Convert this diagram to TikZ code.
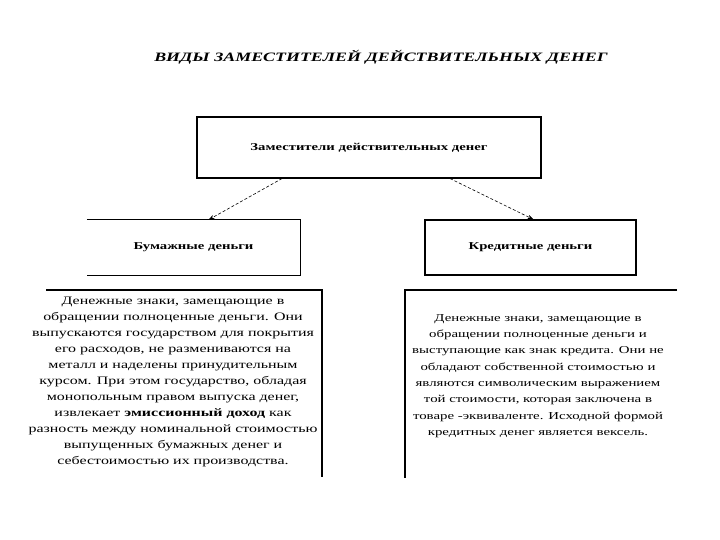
\documentclass[tikz,border=0pt]{standalone}
\usepackage{fontspec}
\setmainfont{Liberation Serif}[FakeStretch=1.4]
\usetikzlibrary{arrows.meta, positioning}

\begin{document}
\begin{tikzpicture}[x=1pt, y=-1pt, >={Stealth[length=6pt, width=4pt]},
            frame/.style={line width=1.1pt},
            block/.style={minimum height=55pt, inner sep=0pt,
              font=\fontsize{10.5}{12}\selectfont\bfseries},
            textblock/.style={align=center, inner sep=0pt,
              font=\fontsize{11.4}{16}\selectfont},
            link/.style={->, dashed, dash pattern=on 3pt off 2pt, line width=0.6pt}]
          \useasboundingbox (0,0) rectangle (720,540);
          % Заголовок
          \node (title) at (381,57) {\fontsize{12.8}{15}\selectfont\bfseries\itshape ВИДЫ ЗАМЕСТИТЕЛЕЙ ДЕЙСТВИТЕЛЬНЫХ ДЕНЕГ};
          % Верхний блок
          \node[block, draw, frame, minimum width=344pt, minimum height=61pt] (top) at (369,147.5) {Заместители действительных денег};
          % Виды
          \node[block, minimum width=213pt] (paper) at (193.5,247.5) {Бумажные деньги};
          \draw[frame] (paper.north west) -- (paper.north east) -- (paper.south east) -- (paper.south west);
          \node[block, draw, frame, minimum width=211pt] (credit) at (530.5,247.5) {Кредитные деньги};
          \draw[link] ([xshift=-87pt]top.south) -- ([xshift=15pt]paper.north);
          \draw[link] ([xshift=81pt]top.south) -- ([xshift=3pt]credit.north);
          % Описания
          \draw[frame] (46,290) -- (322,290) -- (322,477);
          \node[textblock] (papertext) at (173,382) {Денежные знаки, замещающие в\\
            обращении полноценные деньги. Они\\
            выпускаются государством для покрытия\\
            его расходов, не размениваются на\\
            металл и наделены принудительным\\
            курсом. При этом государство, обладая\\
            монопольным правом выпуска денег,\\
            извлекает \textbf{эмиссионный доход} как\\
            разность между номинальной стоимостью\\
            выпущенных бумажных денег и\\
            себестоимостью их производства.};
          \draw[frame] (677,290) -- (405,290) -- (405,478);
          \node[textblock, font=\fontsize{10.6}{16.3}\selectfont] (credittext) at (538,376) {Денежные знаки, замещающие в\\
            обращении полноценные деньги и\\
            выступающие как знак кредита. Они не\\
            обладают собственной стоимостью и\\
            являются символическим выражением\\
            той стоимости, которая заключена в\\
            товаре -эквиваленте. Исходной формой\\
            кредитных денег является вексель.};
        \end{tikzpicture}
\end{document}
